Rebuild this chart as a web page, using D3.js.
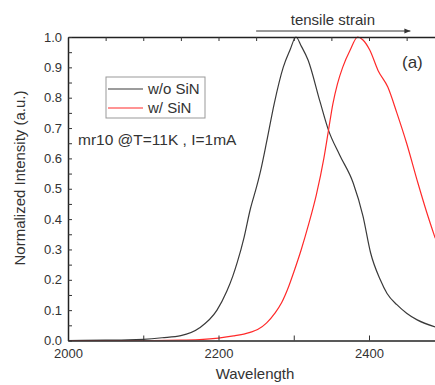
<!DOCTYPE html>
<html>
<head>
<meta charset="utf-8">
<script src="https://cdn.jsdelivr.net/npm/d3@7"></script>
<style>
  body { margin: 0; background: #fff; }
  text { font-family: "Liberation Sans", Arial, sans-serif; fill: #333; }
</style>
</head>
<body>
<div id="chart"></div>
<script>
// spectra (wavelength, normalized intensity)
const woWave = [2000, 2050, 2080, 2100, 2125, 2150, 2175, 2198, 2211, 2219, 2225, 2234, 2242, 2251, 2256, 2264, 2274, 2286, 2295, 2303, 2310, 2319, 2335, 2346, 2361, 2379, 2392, 2402, 2415, 2424, 2437, 2450, 2464, 2488];
const woInt  = [0, 0.001, 0.002, 0.004, 0.009, 0.016, 0.042, 0.10, 0.162, 0.212, 0.258, 0.34, 0.43, 0.51, 0.56, 0.655, 0.78, 0.90, 0.957, 1.0, 0.97, 0.924, 0.786, 0.694, 0.611, 0.519, 0.41, 0.29, 0.20, 0.155, 0.118, 0.09, 0.068, 0.045];

const wWave = [2000, 2100, 2150, 2175, 2200, 2220, 2242, 2252, 2264, 2275, 2284, 2293, 2300, 2310, 2320, 2330, 2340, 2346, 2352, 2358, 2365, 2375, 2385, 2392, 2401, 2412, 2425, 2437, 2450, 2465, 2477, 2488];
const wInt  = [0, 0, 0.001, 0.003, 0.008, 0.015, 0.027, 0.036, 0.058, 0.09, 0.125, 0.176, 0.225, 0.30, 0.385, 0.48, 0.60, 0.69, 0.78, 0.845, 0.90, 0.957, 1.0, 0.99, 0.957, 0.89, 0.835, 0.75, 0.65, 0.519, 0.42, 0.337];

const seriesNames = ["w/o SiN", "w/ SiN"];
const seriesColors = ["#3a3a3a", "#ff2a2a"];
const xTickLabels = [2000, 2200, 2400];

const width = 435, height = 385;
const plotLeft = 68, plotTop = 37, plotBottom = 340.5;

const svg = d3.select("#chart").append("svg")
    .attr("width", width)
    .attr("height", height);

const x = d3.scaleLinear().domain([2000, 2500]).range([plotLeft, plotLeft + 376.25]);
const y = d3.scaleLinear().domain([0, 1]).range([plotBottom, plotTop]);

svg.append("defs").append("clipPath").attr("id", "plot")
  .append("rect").attr("x", plotLeft).attr("y", plotTop - 2)
  .attr("width", width - plotLeft).attr("height", plotBottom - plotTop + 2);

const line = d3.line()
    .x(d => x(d[0]))
    .y(d => y(d[1]))
    .curve(d3.curveMonotoneX);

const series = [
  d3.zip(woWave, woInt),
  d3.zip(wWave, wInt)
];

svg.append("g").attr("clip-path", "url(#plot)")
  .selectAll("path")
  .data(series)
  .enter().append("path")
    .attr("d", line)
    .attr("fill", "none")
    .attr("stroke", (d, i) => seriesColors[i])
    .attr("stroke-width", 1.2);

// axes
const xAxis = d3.axisBottom(x)
    .tickValues(d3.range(2000, 2500, 100))
    .tickSizeInner(-5).tickSizeOuter(0).tickPadding(8)
    .tickFormat(d => xTickLabels.includes(d) ? d : "");
svg.append("g").attr("transform", `translate(0,${plotBottom})`).call(xAxis);

const topAxis = d3.axisTop(x)
    .tickValues(d3.range(2050, 2500, 50))
    .tickSizeInner(-4).tickSizeOuter(0)
    .tickFormat("");
svg.append("g").attr("transform", `translate(0,${plotTop})`).call(topAxis);

const yAxis = d3.axisLeft(y)
    .tickValues(d3.range(0, 1.001, 0.05))
    .tickSizeInner(-4).tickSizeOuter(0).tickPadding(6)
    .tickFormat(d => Math.round(d * 100) % 10 === 0 ? d3.format(".1f")(d) : "");
svg.append("g").attr("transform", `translate(${plotLeft},0)`).call(yAxis);

svg.selectAll(".domain").attr("stroke", "#222").attr("stroke-width", 1.5);
svg.selectAll(".tick line").attr("stroke", "#333");
svg.selectAll(".tick text")
    .style("font-family", "'Liberation Sans', Arial, sans-serif")
    .style("font-size", "13px")
    .attr("fill", "#333");

// axis titles
svg.append("text")
    .attr("x", 255).attr("y", 379)
    .attr("text-anchor", "middle")
    .style("font-size", "15px")
    .text("Wavelength");

svg.append("text")
    .attr("transform", "translate(25,178) rotate(-90)")
    .attr("text-anchor", "middle")
    .style("font-size", "15px")
    .text("Normalized Intensity (a.u.)");

// strain arrow
svg.append("defs").append("marker")
    .attr("id", "head")
    .attr("viewBox", "0 0 10 10")
    .attr("refX", 10).attr("refY", 5)
    .attr("markerWidth", 8).attr("markerHeight", 6)
    .attr("orient", "auto")
  .append("path").attr("d", "M0,1L10,5L0,9Z").attr("fill", "#333");

svg.append("line")
    .attr("x1", x(2250)).attr("x2", x(2455))
    .attr("y1", 31).attr("y2", 31)
    .attr("stroke", "#333").attr("stroke-width", 1)
    .attr("marker-end", "url(#head)");

svg.append("text")
    .attr("x", x(2352)).attr("y", 25)
    .attr("text-anchor", "middle")
    .style("font-size", "15px")
    .text("tensile strain");

svg.append("text")
    .attr("x", 402).attr("y", 68)
    .style("font-size", "17px")
    .text("(a)");

// legend
const legend = svg.append("g");
legend.append("rect")
    .attr("x", 106).attr("y", 77)
    .attr("width", 99).attr("height", 41)
    .attr("fill", "#fff").attr("stroke", "#999");

seriesNames.forEach((name, i) => {
  const ly = 89 + i * 19;
  legend.append("line")
      .attr("x1", 108).attr("x2", 143)
      .attr("y1", ly).attr("y2", ly)
      .attr("stroke", seriesColors[i]).attr("stroke-width", 1.2);
  legend.append("text")
      .attr("x", 148).attr("y", ly + 5)
      .style("font-size", "15px")
      .text(name);
});

svg.append("text")
    .attr("x", 78).attr("y", 145)
    .style("font-size", "15.5px")
    .text("mr10 @T=11K , I=1mA");
</script>
</body>
</html>
